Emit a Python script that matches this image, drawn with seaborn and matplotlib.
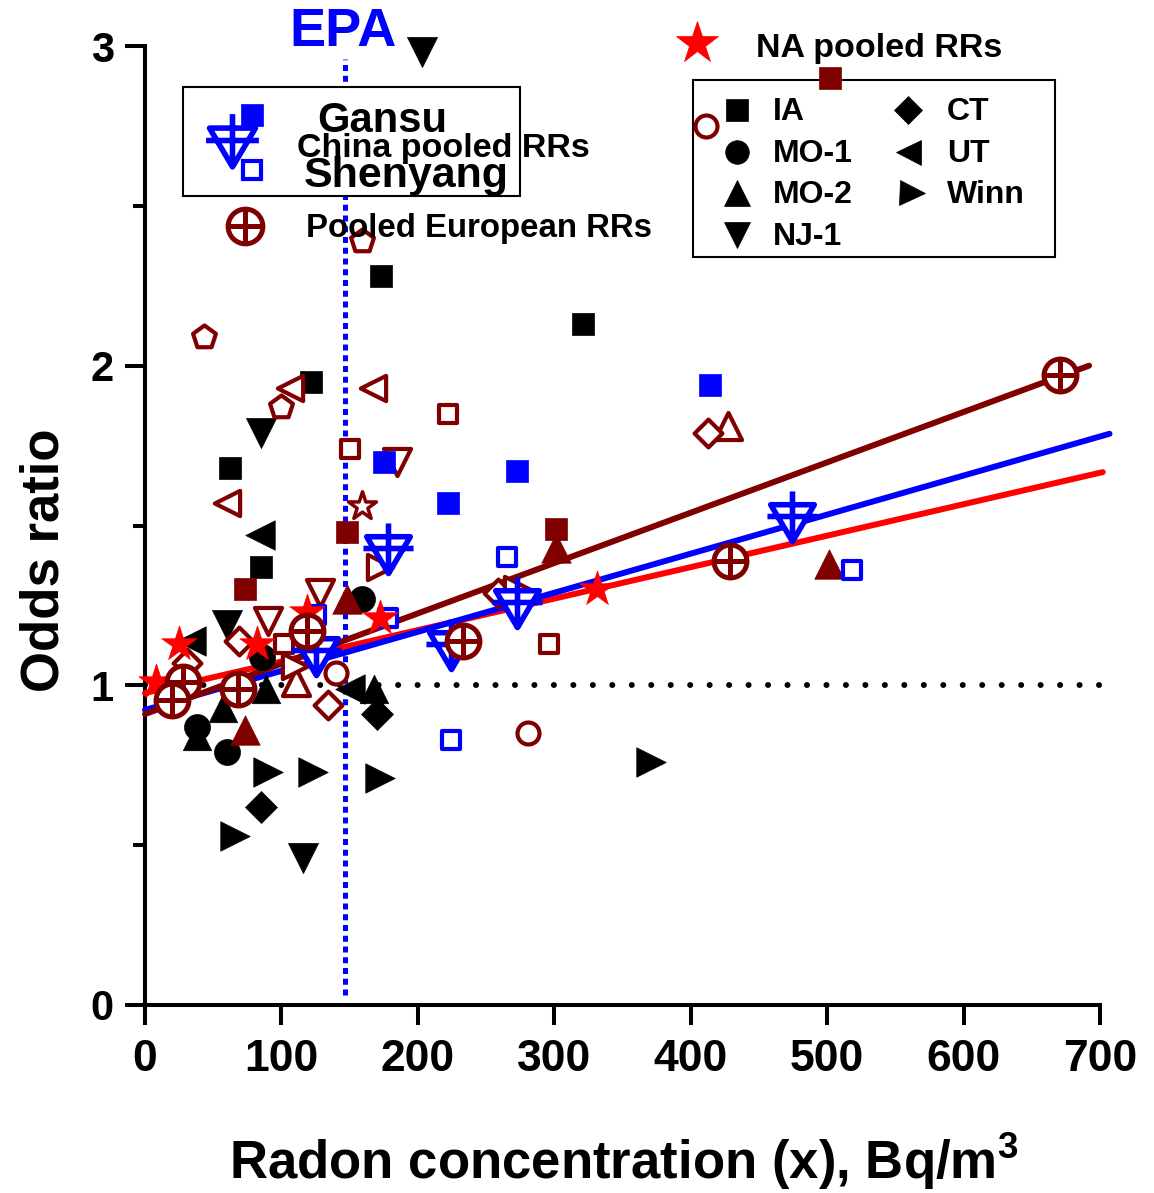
import numpy as np
import pandas as pd
import matplotlib
matplotlib.use("Agg")
import matplotlib.pyplot as plt
from matplotlib.path import Path
from matplotlib.patches import Rectangle
import seaborn as sns

# ---------------- data ----------------
# North-American individual studies (black, filled)
ia_x = [173, 321, 122, 62, 85]
ia_y = [2.28, 2.13, 1.95, 1.68, 1.37]
mo1_x = [38, 60, 86, 159]
mo1_y = [0.87, 0.79, 1.09, 1.27]
mo2_x = [38, 57, 89, 168]
mo2_y = [0.84, 0.93, 0.99, 0.99]
nj1_x = [203, 85, 116, 60]
nj1_y = [2.98, 1.79, 0.46, 1.19]
ct_x = [85, 170]
ct_y = [0.62, 0.91]
ut_x = [84, 150, 34]
ut_y = [1.47, 0.99, 1.14]
winn_x = [66, 90, 123, 172, 371]
winn_y = [0.53, 0.73, 0.73, 0.71, 0.76]

# European individual studies (dark red)
eu_sqf_x = [502, 73, 148, 301]
eu_sqf_y = [2.90, 1.30, 1.48, 1.49]
eu_trif_x = [73, 148, 301, 501]
eu_trif_y = [0.86, 1.27, 1.43, 1.38]
eu_pent_x = [43, 100, 159]
eu_pent_y = [2.09, 1.87, 2.39]
eu_ltri_x = [106, 167, 60]
eu_ltri_y = [1.93, 1.93, 1.57]
eu_sqo_x = [150, 222, 296, 102]
eu_sqo_y = [1.74, 1.85, 1.13, 1.13]
eu_vtri_x = [185, 128, 90]
eu_vtri_y = [1.70, 1.29, 1.20]
eu_trio_x = [427, 111]
eu_trio_y = [1.81, 1.01]
eu_dia_x = [413, 259, 134, 69, 31]
eu_dia_y = [1.79, 1.29, 0.94, 1.14, 1.07]
eu_rtri_x = [172, 273, 110]
eu_rtri_y = [1.37, 1.30, 1.06]
eu_circ_x = [411, 281, 140]
eu_circ_y = [2.75, 0.85, 1.04]
eu_star_x = [159]
eu_star_y = [1.56]

# Pooled estimates
eu_pool_x = [671, 429, 233, 119, 68, 28, 20]
eu_pool_y = [1.97, 1.39, 1.14, 1.17, 0.99, 1.01, 0.955]
na_pool_x = [331, 172, 119, 82, 25, 8]
na_pool_y = [1.30, 1.21, 1.23, 1.13, 1.13, 1.01]
cn_pool_x = [474, 273, 224, 178, 125]
cn_pool_y = [1.53, 1.26, 1.13, 1.43, 1.11]

# Chinese studies
gansu_x = [414, 273, 222, 175]
gansu_y = [1.94, 1.67, 1.57, 1.70]
shen_x = [518, 265, 224, 178, 125]
shen_y = [1.36, 1.40, 0.83, 1.21, 1.22]

# Fitted lines (end points)
eu_line_x = [0, 692]
eu_line_y = [0.910, 2.0]
cn_line_x = [0, 707]
cn_line_y = [0.923, 1.787]
na_line_x = [0, 702]
na_line_y = [0.976, 1.667]
ref_x = [0, 700]
ref_y = [1, 1]
epa_x = [146.5, 146.5]
epa_y = [0.03, 2.96]

# ---------------- style ----------------
sns.set_style("ticks")
plt.rcParams["font.family"] = ["Liberation Sans", "DejaVu Sans"]
plt.rcParams["font.weight"] = "bold"
plt.rcParams["axes.labelweight"] = "bold"
plt.rcParams["mathtext.fontset"] = "custom"
plt.rcParams["mathtext.rm"] = "Liberation Sans:bold"
plt.rcParams["mathtext.it"] = "Liberation Sans:bold"
plt.rcParams["mathtext.bf"] = "Liberation Sans:bold"
for key in ["text.color", "axes.labelcolor", "xtick.color", "ytick.color",
            "axes.edgecolor"]:
    plt.rcParams[key] = "black"

DRED = "#800000"
BLUE = "#0000FF"
RED = "#FF0000"

W, H = 1154, 1193
fig = plt.figure(figsize=(W / 100, H / 100), dpi=100)
ax = fig.add_axes([145 / W, 1 - 1005 / H, 955 / W, 959 / H])


def F(px, py):
    return (px / W, 1 - py / H)


# custom markers
cn_marker = Path.make_compound_path(
    Path([(-0.87, 0.47), (0.87, 0.47), (0, -1.0), (-0.87, 0.47)],
         [Path.MOVETO, Path.LINETO, Path.LINETO, Path.CLOSEPOLY]),
    Path([(-1, 0), (1, 0)], [Path.MOVETO, Path.LINETO]),
    Path([(0, 1), (0, -1)], [Path.MOVETO, Path.LINETO]),
)
eu_marker = Path.make_compound_path(
    Path.unit_circle(),
    Path([(-1, 0), (1, 0)], [Path.MOVETO, Path.LINETO]),
    Path([(0, 1), (0, -1)], [Path.MOVETO, Path.LINETO]),
)


def pts(xs, ys, marker, s, fc, ec, lw, z=4):
    df = pd.DataFrame({"x": xs, "y": ys})
    sns.scatterplot(data=df, x="x", y="y", marker=marker, s=s, color=ec,
                    facecolor=fc, edgecolor=ec, linewidth=lw, zorder=z,
                    clip_on=False, ax=ax)


def line(xs, ys, color, lw, z=3, **kw):
    df = pd.DataFrame({"x": xs, "y": ys})
    sns.lineplot(data=df, x="x", y="y", color=color, linewidth=lw,
                 estimator=None, sort=False, zorder=z, clip_on=False,
                 ax=ax, **kw)


# reference lines
line(epa_x, epa_y, BLUE, 3.6, z=1, linestyle=(0, (1.2, 0.95)),
     dash_capstyle="butt")
line(ref_x, ref_y, "black", 4.3, z=1, linestyle=(0, (0.01, 3.25)),
     dash_capstyle="round")

# NA studies (black)
pts(ia_x, ia_y, "s", 250, "black", "black", 0.5)
pts(mo1_x, mo1_y, "o", 350, "black", "black", 0.5)
pts(mo2_x, mo2_y, "^", 420, "black", "black", 0.5)
pts(nj1_x, nj1_y, "v", 470, "black", "black", 0.5)
pts(ct_x, ct_y, "D", 265, "black", "black", 0.5)
pts(ut_x, ut_y, "<", 450, "black", "black", 0.5)
pts(winn_x, winn_y, ">", 450, "black", "black", 0.5)

# European studies (dark red)
pts(eu_sqf_x, eu_sqf_y, "s", 250, DRED, DRED, 0.5)
pts(eu_trif_x, eu_trif_y, "^", 450, DRED, DRED, 0.5)
pts(eu_pent_x, eu_pent_y, "p", 300, "white", DRED, 3)
pts(eu_ltri_x, eu_ltri_y, "<", 330, "white", DRED, 3)
pts(eu_sqo_x, eu_sqo_y, "s", 170, "white", DRED, 3)
pts(eu_vtri_x, eu_vtri_y, "v", 380, "white", DRED, 3)
pts(eu_trio_x, eu_trio_y, "^", 380, "white", DRED, 3)
pts(eu_dia_x, eu_dia_y, "D", 200, "white", DRED, 3)
pts(eu_rtri_x, eu_rtri_y, ">", 330, "white", DRED, 3)
pts(eu_circ_x, eu_circ_y, "o", 250, "white", DRED, 3)
pts(eu_star_x, eu_star_y, "*", 450, "white", DRED, 2.5)

# Chinese studies
pts(gansu_x, gansu_y, "s", 250, BLUE, BLUE, 0.5)
pts(shen_x, shen_y, "s", 170, "white", BLUE, 3)

# Fitted lines
line(na_line_x, na_line_y, RED, 4.3)
line(cn_line_x, cn_line_y, BLUE, 4.3)
line(eu_line_x, eu_line_y, DRED, 4.3)

# pooled
pts(na_pool_x, na_pool_y, "*", 710, RED, RED, 0.5, z=4)
pts(cn_pool_x, cn_pool_y, cn_marker, 1300, "white", BLUE, 4, z=5)
pts(eu_pool_x, eu_pool_y, eu_marker, 560, "white", DRED, 3.6, z=6)

# ---------------- axes ----------------
ax.set_xlim(0, 700)
ax.set_ylim(0, 3)
ax.set_xticks(range(0, 701, 100))
ax.set_yticks([0, 1, 2, 3])
ax.set_yticks([0.5, 1.5, 2.5], minor=True)
ax.tick_params(axis="both", which="major", length=14.4, width=2.9,
               direction="out", colors="black")
ax.tick_params(axis="x", which="major", pad=10, labelsize=32)
ax.tick_params(axis="y", which="major", pad=8, labelsize=30)
ax.tick_params(axis="y", which="minor", length=8.6, width=2.9)
for lab in ax.get_xticklabels() + ax.get_yticklabels():
    lab.set_fontweight("bold")
sns.despine(ax=ax)
for sp in ["left", "bottom"]:
    ax.spines[sp].set_linewidth(2.9)
    ax.spines[sp].set_color("black")

ax.set_xlabel(r"Radon concentration (x), Bq/m$^{3}$", fontsize=38,
              fontweight="bold")
ax.set_ylabel("Odds ratio", fontsize=38, fontweight="bold")
ax.xaxis.label.set_va("baseline")
ax.xaxis.set_label_coords(0.501, -0.1814)
ax.yaxis.set_label_coords(-0.079, 0.464)

# EPA label
ax.text(145, 3.0, "EPA", color=BLUE, fontsize=39, fontweight="bold",
        ha="center", va="baseline", clip_on=False, zorder=7)

# ---------------- manual legends ----------------
def box(px0, py0, px1, py1):
    x0, y0 = F(px0, py1)
    x1, y1 = F(px1, py0)
    ax.add_patch(Rectangle((x0, y0), x1 - x0, y1 - y0,
                           transform=fig.transFigure, facecolor="white",
                           edgecolor="black", linewidth=1.5, zorder=2,
                           clip_on=False))


box(183, 87, 520, 196)    # China legend
box(693, 80, 1055, 257)   # North-American legend


def glyph(px, py, marker, ms, fc, ec, mew):
    ax.plot(*F(px, py), marker=marker, markersize=ms, markerfacecolor=fc,
            markeredgecolor=ec, markeredgewidth=mew, linestyle="none",
            transform=fig.transFigure, clip_on=False, zorder=8)


def label(px, py, txt, size):
    fig.text(*F(px, py), txt, fontsize=size, fontweight="bold",
             ha="left", va="baseline", zorder=9)


glyph(252, 115, "s", 16, BLUE, BLUE, 0.5)
glyph(232, 140, cn_marker, 38, "white", BLUE, 4)
glyph(252, 170, "s", 13, "white", BLUE, 3)
label(317, 132, "Gansu", 30)
label(297, 157, "China pooled RRs", 24.5)
label(304, 187, "Shenyang", 31)
glyph(245, 226, eu_marker, 25, "white", DRED, 3.6)
label(306, 237, "Pooled European RRs", 23.8)

glyph(697, 43, "*", 32, RED, RED, 0.5)
label(756, 57, "NA pooled RRs", 24.5)
glyph(737, 110, "s", 16, "black", "black", 0.5)
glyph(737, 152, "o", 17, "black", "black", 0.5)
glyph(737, 193, "^", 19, "black", "black", 0.5)
glyph(737, 235, "v", 19, "black", "black", 0.5)
glyph(908, 110, "D", 14, "black", "black", 0.5)
glyph(908, 152, "<", 18, "black", "black", 0.5)
glyph(912, 193, ">", 18, "black", "black", 0.5)
label(773, 120, "IA", 23)
label(773, 162, "MO-1", 23)
label(773, 203, "MO-2", 23)
label(773, 245, "NJ-1", 23)
label(947, 120, "CT", 23)
label(947, 162, "UT", 23)
label(947, 203, "Winn", 23)

fig.savefig("out.png", dpi=100)
